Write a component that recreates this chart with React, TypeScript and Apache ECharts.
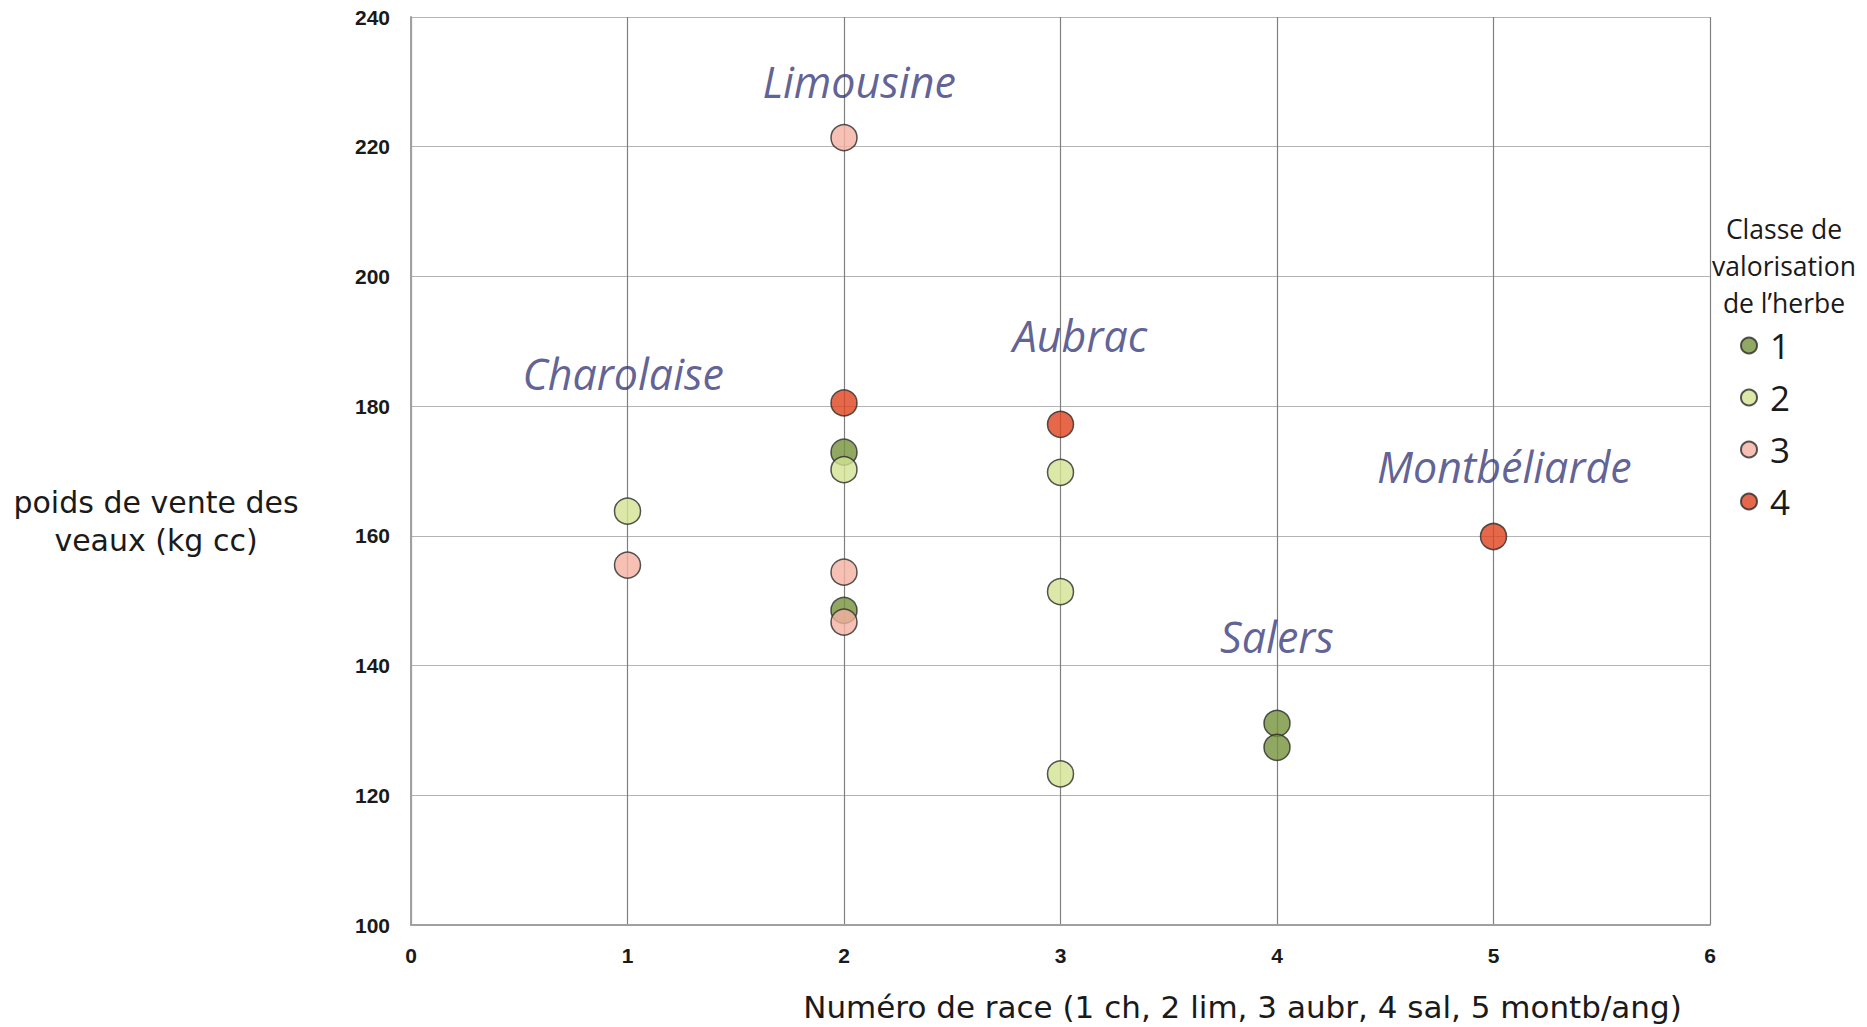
import React, { useEffect, useRef } from "react";
import * as echarts from "echarts";

const classNames = ["1", "2", "3", "4"];
const classColors = ["#76923C", "#D2E292", "#F4B0A2", "#DE421E"];

const class1Points: [number, number][] = [[2, 172.9], [2, 148.5], [4, 131.1], [4, 127.4]];
const class2Points: [number, number][] = [[1, 163.8], [2, 170.2], [3, 169.8], [3, 151.4], [3, 123.3]];
const class3Points: [number, number][] = [[1, 155.5], [2, 221.4], [2, 154.4], [2, 146.7]];
const class4Points: [number, number][] = [[2, 180.5], [3, 177.2], [5, 159.9]];

const breedNames = ["Limousine", "Charolaise", "Aubrac", "Montbéliarde", "Salers"];
const breedLabelX = [2.07, 0.98, 3.09, 5.05, 4.0];
const breedLabelY = [230.1, 185.1, 190.9, 170.7, 144.5];

const xTicks = [0, 1, 2, 3, 4, 5, 6];
const yTicks = [100, 120, 140, 160, 180, 200, 220, 240];

const xAxisTitle = "Numéro de race (1 ch, 2 lim, 3 aubr, 4 sal, 5 montb/ang)";
const yAxisTitle = "poids de vente des\nveaux (kg cc)";
const legendTitle = "Classe de\nvalorisation\nde l’herbe";

export default function App() {
  const ref = useRef<HTMLDivElement>(null);
  useEffect(() => {
    document.body.style.margin = "0";
    if (!ref.current) return;
    const chart = echarts.init(ref.current, undefined, { renderer: "svg" });
    const allPoints = [class1Points, class2Points, class3Points, class4Points];
    const series: any[] = allPoints.map((pts, i) => ({
      name: classNames[i],
      type: "scatter",
      data: pts,
      symbol: "circle",
      symbolSize: 26,
      itemStyle: { color: classColors[i], borderColor: "#2a2a2a", borderWidth: 1.5 },
      z: 3 + i,
    }));
    series.push({
      name: "breeds",
      type: "scatter",
      symbolSize: 0,
      silent: true,
      data: breedNames.map((n, i) => ({ name: n, value: [breedLabelX[i], breedLabelY[i]] })),
      label: {
        show: true,
        position: "inside",
        formatter: (p: any) => p.name,
        fontFamily: "Open Sans",
        fontStyle: "italic",
        fontSize: 43,
        color: "#37397a",
      },
      z: 10,
    });
    chart.setOption({
      animation: false,
      backgroundColor: "#ffffff",
      grid: { left: 411, top: 17, right: 157, bottom: 97, containLabel: false },
      xAxis: {
        type: "value",
        min: xTicks[0],
        max: xTicks[xTicks.length - 1],
        interval: 1,
        name: xAxisTitle,
        nameLocation: "middle",
        nameGap: 66,
        nameTextStyle: {
          fontFamily: "DejaVu Sans",
          fontSize: 31,
          color: "#1a1a1a",
          align: "center",
          padding: [0, 0, 0, 364],
        },
        axisLine: { show: true, lineStyle: { color: "#a0a0a0", width: 2 } },
        axisTick: { show: false },
        axisLabel: {
          margin: 20,
          fontFamily: "Liberation Sans",
          fontWeight: "bold",
          fontSize: 21,
          color: "#1a1a1a",
        },
        splitLine: { show: true, lineStyle: { color: "#808080", width: 1.2 } },
      },
      yAxis: {
        type: "value",
        min: yTicks[0],
        max: yTicks[yTicks.length - 1],
        interval: 20,
        axisLine: { show: true, lineStyle: { color: "#a0a0a0", width: 2 } },
        axisTick: { show: false },
        axisLabel: {
          margin: 21,
          fontFamily: "Liberation Sans",
          fontWeight: "bold",
          fontSize: 21,
          color: "#1a1a1a",
        },
        splitLine: { show: true, lineStyle: { color: "#b4b4b4", width: 1.2 } },
      },
      legend: {
        data: classNames,
        orient: "vertical",
        left: 1735,
        top: 323,
        itemWidth: 16,
        itemHeight: 16,
        itemGap: 17,
        icon: "circle",
        textStyle: { fontFamily: "Open Sans", fontSize: 35, color: "#1a1a1a", padding: [0, 0, 0, 8] },
      },
      graphic: [
        {
          type: "text",
          x: 1784,
          y: 210,
          style: {
            text: legendTitle,
            fontFamily: "Open Sans",
            fontSize: 26.5,
            lineHeight: 37,
            fill: "#1a1a1a",
            textAlign: "center",
          },
        },
        {
          type: "text",
          x: 156,
          y: 521,
          style: {
            text: yAxisTitle,
            fontFamily: "DejaVu Sans",
            fontSize: 30,
            lineHeight: 38,
            fill: "#1a1a1a",
            textAlign: "center",
            textVerticalAlign: "middle",
          },
        },
      ],
      series,
    });
    return () => chart.dispose();
  }, []);
  return <div ref={ref} style={{ width: 1867, height: 1027 }} />;
}
